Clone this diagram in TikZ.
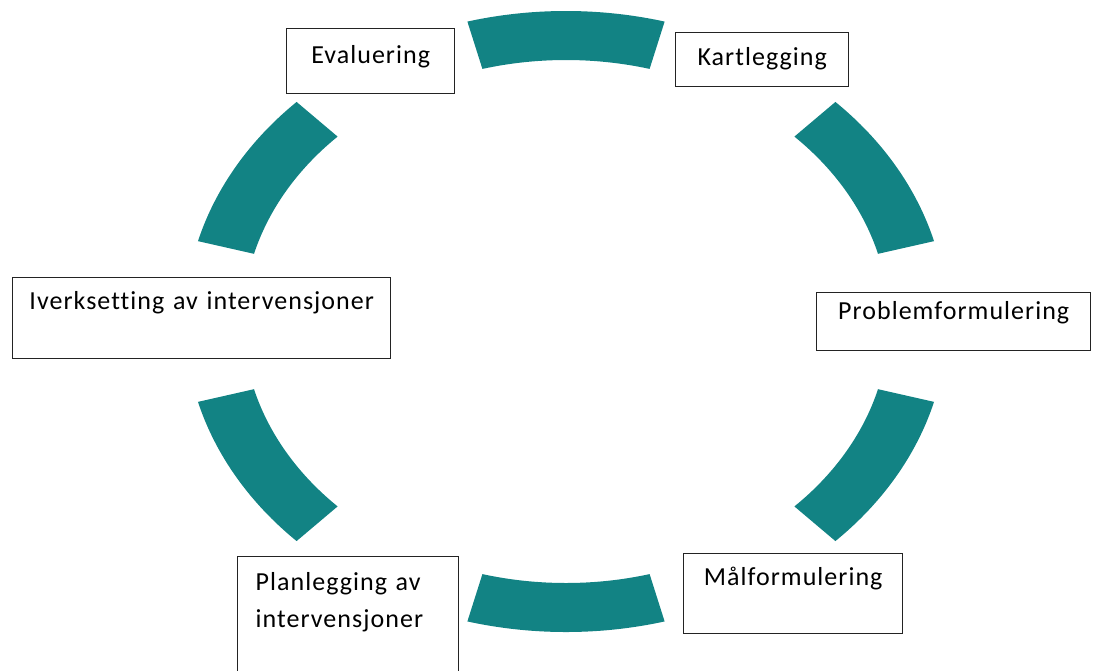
\documentclass[tikz,border=0pt]{standalone}
\usepackage{fontspec}
\newfontfamily\lab[LetterSpace=4,Ligatures=NoCommon]{Carlito}
\usetikzlibrary{calc}
\definecolor{ringteal}{RGB}{18,131,132}
\definecolor{boxline}{RGB}{35,35,35}
\begin{document}
\begin{tikzpicture}[x=1pt,y=-1pt,
  seg/.style={fill=ringteal, draw=none},
  box/.style={draw=boxline, line width=1.4pt, fill=white, anchor=north west,
    inner xsep=0pt, inner ysep=0pt, font=\lab\fontsize{26}{37}\selectfont, align=center}]
\useasboundingbox (0,0) rectangle (1094,670);
\coordinate (c) at (566,321.5);
\foreach \m in {90,30,-30,-90,-150,150}{
  \fill[seg] ($(c)+({\m-15}:381pt and 310.5pt)$)
    arc[start angle=\m-15, end angle=\m+15, x radius=381pt, y radius=310.5pt]
    -- ($(c)+({\m+15}:323pt and 261.5pt)$)
    arc[start angle=\m+15, end angle=\m-15, x radius=323pt, y radius=261.5pt]
    -- cycle;
}
\node[box, text width=168pt, text height=35pt, text depth=30pt] (eval) at (286,28) {Evaluering};
\node[box, text width=173pt, text height=33pt, text depth=21pt] (kart) at (675,32) {Kartlegging};
\node[box, text width=274pt, text height=27pt, text depth=31pt] (prob) at (816,292) {Problemformulering};
\node[box, text width=378pt, text height=32pt, text depth=49pt] (iverk) at (12,277) {Iverksetting av intervensjoner};
\node[box, text width=185pt, inner xsep=18pt, align=left, text height=34pt, text depth=84pt] (plan) at (237,556) {Planlegging av\\intervensjoner};
\node[box, text width=219pt, text height=32pt, text depth=48pt] (maal) at (683,553) {Målformulering};
\end{tikzpicture}
\end{document}
